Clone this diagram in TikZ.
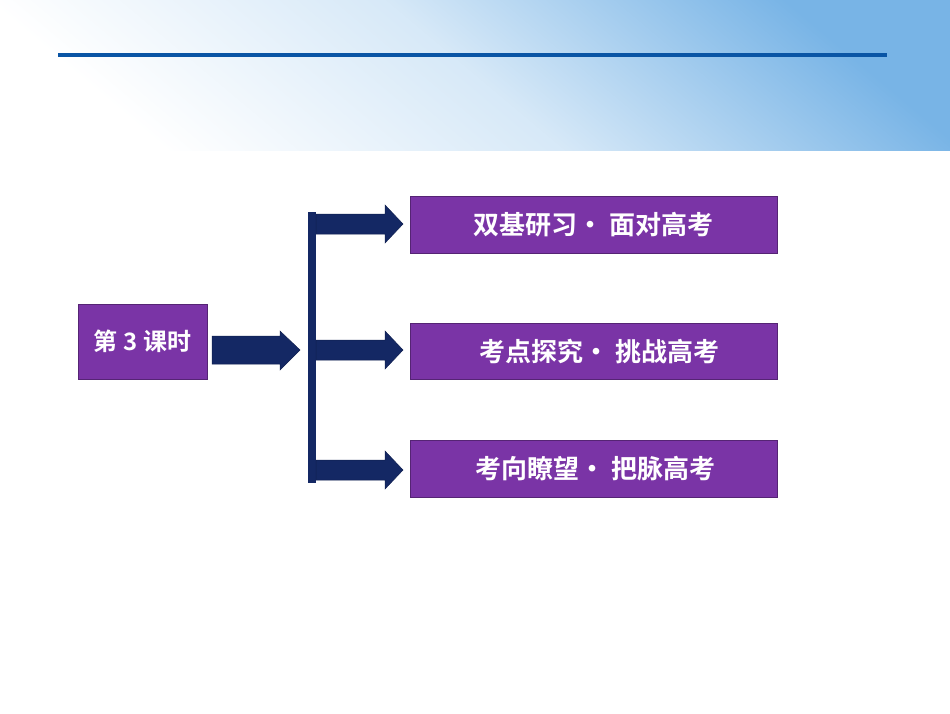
\documentclass[tikz,border=0pt]{standalone}
\usepackage{fontspec}
\newfontfamily\cjk{Noto Sans CJK SC Bold}
\definecolor{boxp}{RGB}{122,52,166}
\definecolor{navy}{RGB}{20,40,100}
\definecolor{topline}{RGB}{10,85,165}
\definecolor{skyb}{RGB}{120,180,230}
\tikzset{
  box/.style={fill=boxp, draw=boxp!70!black, line width=0.6pt, text=white, font=\cjk\fontsize{26}{28}\selectfont, inner sep=0pt},
  arr/.style={fill=navy, draw=navy!80!black, line width=0.5pt}
}
\begin{document}
\begin{tikzpicture}[x=1pt,y=-1pt]
\useasboundingbox (0,0) rectangle (950,713);
\fill[white] (0,0) rectangle (950,713);
\shade[shading=axis, top color=skyb, bottom color=white, middle color=skyb!30, shading angle=-40] (0,0) rectangle (950,150);
\draw[topline, line width=4pt] (58,55) -- (887,55);
% boxes
\node[box, minimum width=129pt, minimum height=75pt, font=\cjk\fontsize{24}{26}\selectfont] (L) at (142.5,341.5) {第 3 课时};
\node[box, minimum width=367pt, minimum height=57pt] (A) at (593.5,224.5) {双基研习• 面对高考};
\node[box, minimum width=367pt, minimum height=56pt] (B) at (593.5,351) {\hspace{12pt}考点探究• 挑战高考};
\node[box, minimum width=367pt, minimum height=57pt] (C) at (593.5,468.5) {\hspace{4pt}考向瞭望• 把脉高考};
% bar
\fill[navy] (308,212) rectangle (316,483);
% main arrow
\draw[arr] (212,336) -- (280,336) -- (280,331) -- (300,350) -- (280,370) -- (280,364) -- (212,364) -- cycle;
% branch arrows
\foreach \y/\n in {224/A,350/B,470/C}{
  \draw[arr] (316,\y-10) -- (385,\y-10) -- (385,\y-19) -- (403,\y) -- (385,\y+19) -- (385,\y+10) -- (316,\y+10) -- cycle;
}
\end{tikzpicture}
\end{document}
